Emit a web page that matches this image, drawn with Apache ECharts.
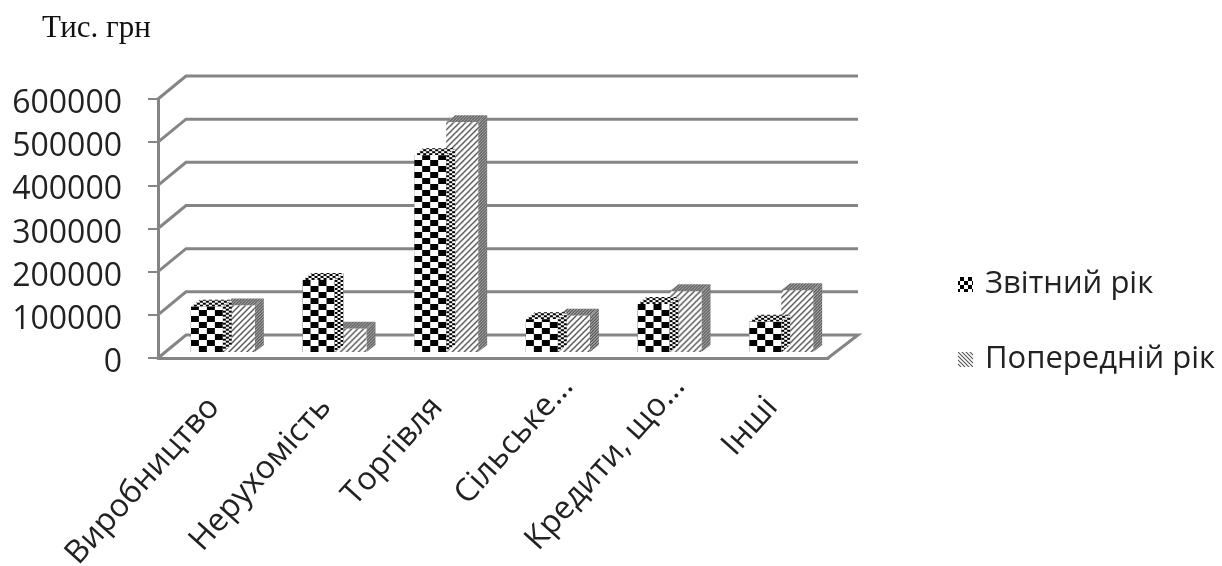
<!DOCTYPE html>
<html>
<head>
<meta charset="utf-8">
<style>
  html, body { margin: 0; padding: 0; background: #fff; }
  #chart { width: 1222px; height: 566px; }
</style>
<script src="https://cdn.jsdelivr.net/npm/echarts@6/dist/echarts.min.js"></script>
</head>
<body>
<div id="chart"></div>
<script>
var categories = ['Виробництво', 'Нерухомість', 'Торгівля', 'Сільське...', 'Кредити, що...', 'Інші'];
var reportYear = [105000, 167000, 456000, 76000, 111000, 70000];
var prevYear = [108000, 54000, 532000, 84000, 141000, 143000];
var yTicks = [0, 100000, 200000, 300000, 400000, 500000, 600000];

var GRAY = '#858585';
// глибина псевдо-3D
var wallDx = 28, wallDy = 23;
var barDx = 9, barDy = 7;
var barW = 32;

function makeTile(w, h, draw) {
  var c = document.createElement('canvas');
  c.width = w;
  c.height = h;
  var ctx = c.getContext('2d');
  ctx.fillStyle = '#fff';
  ctx.fillRect(0, 0, w, h);
  draw(ctx);
  return c;
}

function checker(w, h) {
  return makeTile(w * 2, h * 2, function (ctx) {
    ctx.fillStyle = '#000';
    ctx.fillRect(0, 0, w, h);
    ctx.fillRect(w, h, w, h);
  });
}

function hatch(size, color, lw, flip) {
  return makeTile(size, size, function (ctx) {
    if (flip) {
      ctx.translate(size, 0);
      ctx.scale(-1, 1);
    }
    ctx.strokeStyle = color;
    ctx.lineWidth = lw;
    ctx.beginPath();
    ctx.moveTo(-1, size + 1);
    ctx.lineTo(size + 1, -1);
    ctx.moveTo(-size / 2, size / 2);
    ctx.lineTo(size / 2, -size / 2);
    ctx.moveTo(size / 2, size * 1.5);
    ctx.lineTo(size * 1.5, size / 2);
    ctx.stroke();
  });
}

var checkFront = checker(8, 6);
var checkTop = checker(3, 2);
var checkLegend = checker(4, 4);
var hatchFront = hatch(6, '#4a4a4a', 1.3);
var hatchSide = hatch(3, '#333', 1.3);
var hatchLegend = hatch(4, '#555', 1.1, true);

function pat(image, x, y) {
  return { image: image, repeat: 'repeat', x: x, y: y };
}

function wallItem(params, api) {
  var v = api.value(0);
  var cs = params.coordSys;
  var y = api.coord([0, v])[1];
  var x0 = cs.x, x1 = cs.x + cs.width;
  var pts = [[x0, y], [x0 + wallDx, y - wallDy], [x1 + wallDx + 2, y - wallDy]];
  if (v === 0) pts.push([x1, y]);
  return {
    type: 'polyline',
    shape: { points: pts },
    style: { stroke: GRAY, lineWidth: 3, fill: null }
  };
}

function barItem(side, front, top, sideImg) {
  return function (params, api) {
    var p = api.coord([api.value(0), api.value(1)]);
    var b = api.coord([api.value(0), 0]);
    var left = b[0] + barDx + (side < 0 ? -barW : 0);
    var right = left + barW;
    var baseY = b[1] - barDy + 1;
    var topY = p[1] - barDy + 1;
    return {
      type: 'group',
      children: [
        {
          type: 'polygon',
          shape: { points: [[right, baseY], [right + barDx, baseY - barDy], [right + barDx, topY - barDy], [right, topY]] },
          style: { fill: pat(sideImg, right, topY) }
        },
        {
          type: 'polygon',
          shape: { points: [[left, topY], [left + barDx, topY - barDy], [right + barDx, topY - barDy], [right, topY]] },
          style: { fill: pat(top, left, topY) }
        },
        {
          type: 'rect',
          shape: { x: left, y: topY, width: barW, height: baseY - topY },
          style: { fill: pat(front, left, baseY) }
        }
      ]
    };
  };
}

function pairs(arr) {
  return arr.map(function (v, i) { return [i, v]; });
}

// підписи з трьома крапками в оригіналі зсунуті вправо
var catItems = categories.map(function (c) {
  if (c.indexOf('...') > 0) {
    return { value: c, textStyle: { padding: [0, -28, 0, 0] } };
  }
  return c;
});

var chart = echarts.init(document.getElementById('chart'));
chart.setOption({
  animation: false,
  backgroundColor: '#fff',
  title: {
    text: 'Тис. грн',
    left: 37,
    top: 8,
    textStyle: { fontFamily: 'Liberation Serif', fontSize: 31, fontWeight: 'normal', color: '#111' }
  },
  legend: {
    orient: 'vertical',
    left: 953,
    top: 264,
    itemWidth: 15,
    itemHeight: 15,
    itemGap: 44,
    icon: 'rect',
    data: ['Звітний рік', 'Попередній рік'],
    textStyle: { fontFamily: 'Open Sans', fontSize: 31, color: '#222', padding: [0, 0, 0, 7] }
  },
  grid: { left: 158, right: 394, top: 99, bottom: 208, outerBoundsMode: 'none' },
  xAxis: {
    type: 'category',
    data: catItems,
    axisLine: { lineStyle: { color: GRAY, width: 3 } },
    axisTick: { length: 11, lineStyle: { color: GRAY, width: 2 } },
    axisLabel: { rotate: 48, interval: 0, margin: 44, fontFamily: 'Open Sans', fontSize: 32, color: '#222' }
  },
  yAxis: {
    type: 'value',
    min: 0,
    max: 600000,
    interval: 100000,
    axisLine: { show: true, lineStyle: { color: GRAY, width: 3 } },
    axisTick: { show: true, length: 10, lineStyle: { color: GRAY, width: 2 } },
    splitLine: { show: false },
    axisLabel: {
      margin: 36,
      verticalAlign: 'top',
      lineHeight: 10,
      fontFamily: 'Open Sans',
      fontSize: 32,
      color: '#222',
      formatter: function (v) { return String(v); }
    }
  },
  series: [
    {
      type: 'custom',
      name: 'wall',
      z: 1,
      silent: true,
      data: yTicks.map(function (v) { return [v]; }),
      encode: { y: 0 },
      renderItem: wallItem
    },
    {
      type: 'custom',
      name: 'Попередній рік',
      z: 2,
      itemStyle: { color: pat(hatchLegend, 958, 350) },
      data: pairs(prevYear),
      encode: { x: 0, y: 1 },
      renderItem: barItem(1, hatchFront, hatchSide, hatchSide)
    },
    {
      type: 'custom',
      name: 'Звітний рік',
      z: 3,
      itemStyle: { color: pat(checkLegend, 958, 276) },
      data: pairs(reportYear),
      encode: { x: 0, y: 1 },
      renderItem: barItem(-1, checkFront, checkTop, checkTop)
    }
  ]
});
</script>
</body>
</html>
